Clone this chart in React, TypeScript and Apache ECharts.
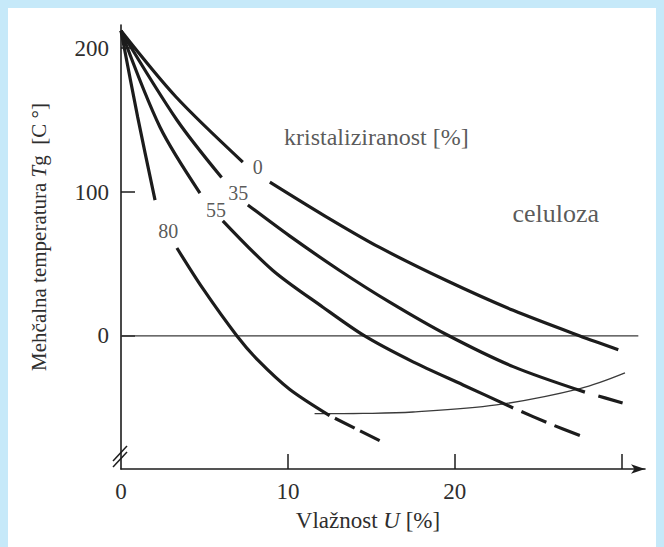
import React, { useEffect, useRef } from "react";
import * as echarts from "echarts";

// Curves: glass transition temperature vs moisture, per crystallinity [%]
const curve0Solid1 = [[0, 212], [3.3, 166], [7.3, 120.8]];
const curve0Solid2 = [[8.92, 106.9], [12.2, 83.5], [15.5, 61.5], [19.5, 38.5], [23.5, 17.8], [27.5, 0], [29.8, -9.5]];

const curve35Solid1 = [[0, 212], [3.35, 150], [6.03, 110]];
const curve35Solid2 = [[7.6, 91], [10.1, 69.5], [13.1, 45.5], [16.1, 23.5], [19.5, 1], [23.5, -21.3], [27.8, -39]];
const curve35Dashed = [[27.8, -39], [30.2, -47]];

const curve55Solid1 = [[0, 212], [2.34, 145], [4.73, 99.3]];
const curve55Solid2 = [[6.1, 80], [9.1, 45.5], [12.1, 20], [14.6, 0], [17.5, -18], [20.5, -34], [23.5, -50]];
const curve55Dashed = [[23.5, -50], [25.6, -60.5], [27.65, -69.9]];

const curve80Solid1 = [[0, 212], [1.0, 152], [2.04, 94.4]];
const curve80Solid2 = [[3.35, 61.1], [4.9, 33], [6.95, 0], [8.22, -17], [10.1, -37], [12.5, -55.3]];
const curve80Dashed = [[12.5, -55.3], [15.5, -72.7]];

const celluloseLine = [[11.6, -54], [14.5, -53.8], [17.5, -52.8], [22.5, -47.9], [27.5, -36.6], [30.2, -25.7]];
const zeroLine = [[0, 0], [31, 0]];

const curveLabels = [
  { text: "0", x: 8.2, y: 117.4 },
  { text: "35", x: 7.02, y: 99.3 },
  { text: "55", x: 5.69, y: 87.7 },
  { text: "80", x: 2.83, y: 73.1 },
];
const annotations = [
  { text: "kristaliziranost [%]", x: 15.3, y: 138, size: 24 },
  { text: "celuloza", x: 26.05, y: 85.4, size: 26 },
];

const xTickValues = [10, 20, 30];
const xLabelValues = [0, 10, 20];
const yTickValues = [0, 100, 200];
const yLabelValues = [0, 100, 200];

const FONT = "'Liberation Serif', 'DejaVu Serif', serif";
const INK = "#1c1c1c";
const TXT = "#2e2e2e";

export default function App() {
  const ref = useRef<HTMLDivElement>(null);

  useEffect(() => {
    if (!ref.current) return;
    const chart = echarts.init(ref.current, null, { renderer: "svg" });

    const thick = (data: number[][], dashed?: { type: number[]; offset: number }) => ({
      type: "line",
      data,
      symbol: "none",
      smooth: 0.3,
      silent: true,
      z: 3,
      lineStyle: {
        color: INK,
        width: 3.2,
        cap: "butt",
        type: dashed ? dashed.type : "solid",
        dashOffset: dashed ? dashed.offset : 0,
      },
    });

    chart.setOption({
      animation: false,
      backgroundColor: "transparent",
      grid: { left: 121, right: 19, top: 25, bottom: 78, containLabel: false, outerBoundsMode: "none" },
      xAxis: {
        type: "value",
        min: 0,
        max: 31.4,
        name: "{n|Vlažnost }{i|U}{n| [%]}",
        nameLocation: "middle",
        nameGap: 40,
        nameTextStyle: {
          padding: [0, 30, 0, 0],
          rich: {
            n: { fontFamily: FONT, fontSize: 23, color: TXT },
            i: { fontFamily: FONT, fontSize: 23, color: TXT, fontStyle: "italic" },
          },
        },
        axisLine: {
          show: true,
          onZero: false,
          symbol: ["none", "arrow"],
          symbolSize: [7, 14],
          lineStyle: { color: INK, width: 1.6 },
        },
        axisTick: { show: true, inside: true, length: 15, customValues: xTickValues, lineStyle: { color: INK, width: 1.5 } },
        axisLabel: { customValues: xLabelValues, margin: 11, fontFamily: FONT, fontSize: 23, color: TXT },
        splitLine: { show: false },
      },
      yAxis: {
        type: "value",
        min: -92.4,
        max: 216,
        name: "{n|Mehčalna temperatura }{i|T}{n|g  [C °]}",
        nameLocation: "middle",
        nameGap: 72,
        nameTextStyle: {
          padding: [0, 0, 0, 20],
          rich: {
            n: { fontFamily: FONT, fontSize: 21, color: TXT },
            i: { fontFamily: FONT, fontSize: 21, color: TXT, fontStyle: "italic" },
          },
        },
        axisLine: { show: true, onZero: false, lineStyle: { color: INK, width: 1.6 } },
        axisTick: { show: true, inside: true, length: 14, customValues: yTickValues, lineStyle: { color: INK, width: 1.5 } },
        axisLabel: { customValues: yLabelValues, margin: 12, fontFamily: FONT, fontSize: 23, color: TXT },
        splitLine: { show: false },
      },
      graphic: [
        { type: "line", shape: { x1: 113, y1: 461, x2: 127, y2: 446 }, style: { stroke: INK, lineWidth: 1.5 } },
        { type: "line", shape: { x1: 113, y1: 467, x2: 127, y2: 452 }, style: { stroke: INK, lineWidth: 1.5 } },
      ],
      series: [
        {
          type: "line",
          data: zeroLine,
          symbol: "none",
          silent: true,
          z: 2,
          lineStyle: { color: "#3a3a3a", width: 1.3 },
        },
        {
          type: "line",
          data: celluloseLine,
          symbol: "none",
          smooth: 0.35,
          silent: true,
          z: 2,
          lineStyle: { color: "#3a3a3a", width: 1.3 },
        },
        thick(curve0Solid1),
        thick(curve0Solid2),
        thick(curve35Solid1),
        thick(curve35Solid2),
        thick(curve35Dashed, { type: [25, 14], offset: 25 }),
        thick(curve55Solid1),
        thick(curve55Solid2),
        thick(curve55Dashed, { type: [27, 9], offset: 27 }),
        thick(curve80Solid1),
        thick(curve80Solid2),
        thick(curve80Dashed, { type: [22, 6], offset: 22 }),
        {
          type: "scatter",
          symbolSize: 0,
          silent: true,
          z: 4,
          data: curveLabels.map((l) => ({ value: [l.x, l.y], name: l.text })),
          label: {
            show: true,
            position: "inside",
            formatter: "{b}",
            fontFamily: FONT,
            fontSize: 20,
            color: TXT,
            textBorderWidth: 0,
          },
        },
        {
          type: "scatter",
          symbolSize: 0,
          silent: true,
          z: 4,
          data: annotations.map((l) => ({
            value: [l.x, l.y],
            name: l.text,
            label: { fontSize: l.size },
          })),
          label: {
            show: true,
            position: "inside",
            formatter: "{b}",
            fontFamily: FONT,
            color: TXT,
            textBorderWidth: 0,
          },
        },
      ],
    });

    return () => chart.dispose();
  }, []);

  return (
    <div style={{ position: "fixed", left: 0, top: 0, width: 664, height: 547, background: "#c6e9f9" }}>
      <div style={{ position: "absolute", left: 8, top: 8, width: 648, height: 539, background: "#ffffff" }} />
      <div ref={ref} style={{ position: "absolute", left: 0, top: 0, width: 664, height: 547 }} />
    </div>
  );
}
